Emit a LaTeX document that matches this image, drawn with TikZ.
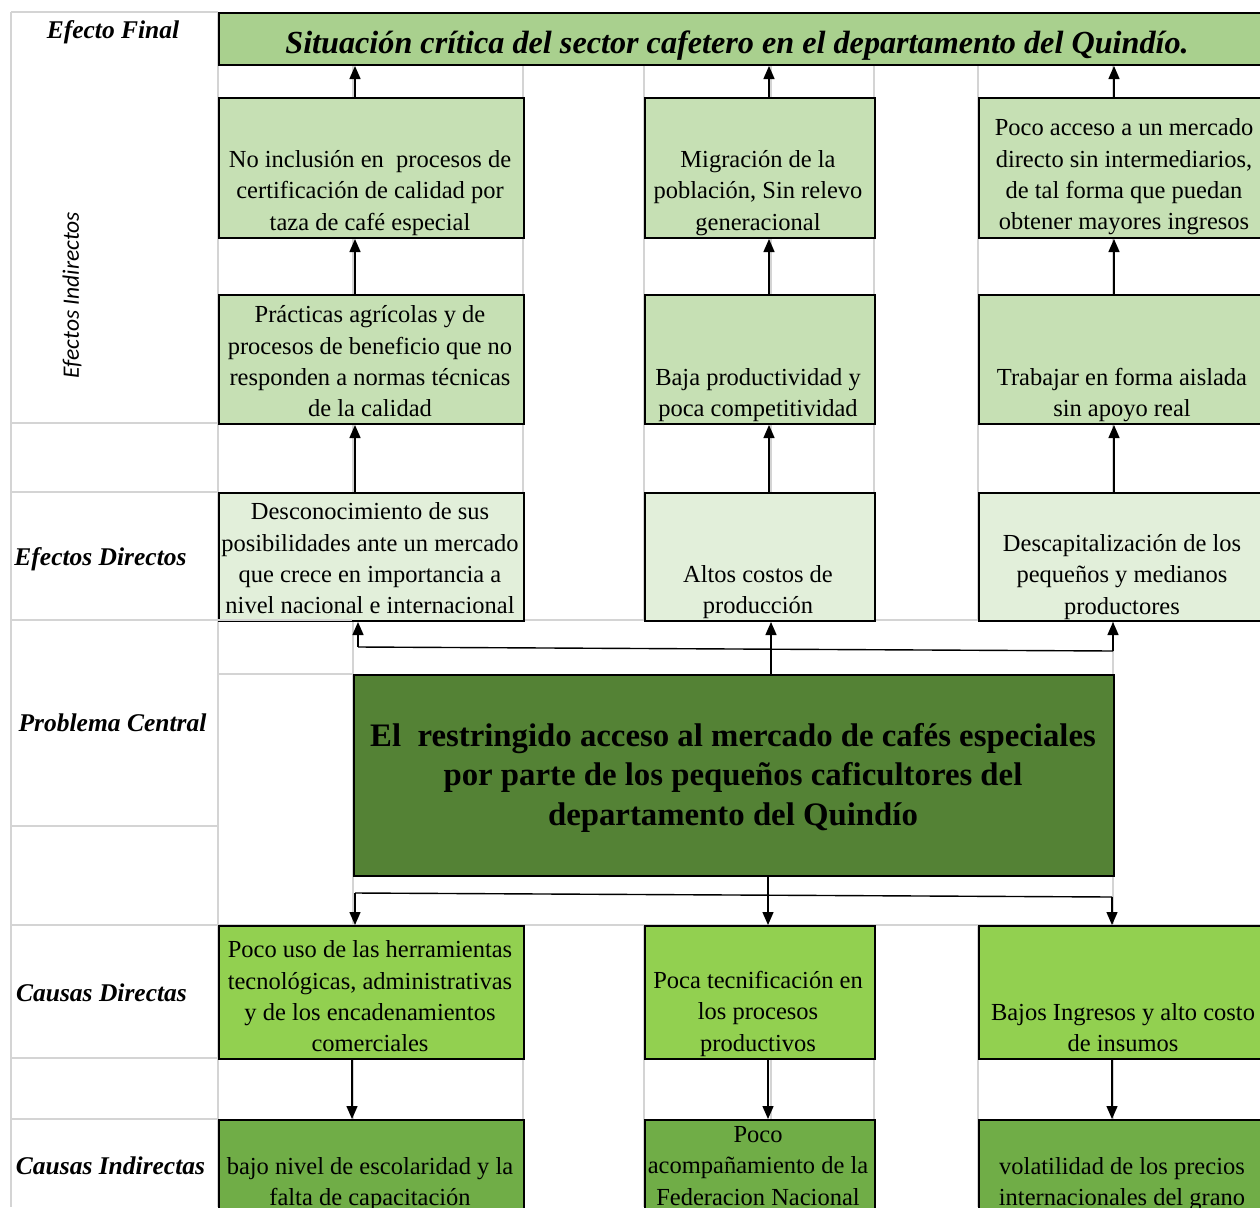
\documentclass[tikz,border=0pt]{standalone}
\usepackage{fontspec}
\setmainfont{Liberation Serif}
\newfontfamily\calibrifam{Carlito}
\usetikzlibrary{arrows.meta}

\definecolor{gridc}{HTML}{D4D4D4}
\definecolor{cfinal}{HTML}{A9D08E}
\definecolor{cindir}{HTML}{C6E0B4}
\definecolor{cdirec}{HTML}{E2EFDA}
\definecolor{ccentral}{HTML}{548235}
\definecolor{ccausa}{HTML}{92D050}
\definecolor{ccausaind}{HTML}{70AD47}

\tikzset{
  gridline/.style={draw=gridc, line width=1.6pt},
  cell/.style={draw=black, line width=2pt, inner sep=0pt, anchor=north west},
  txt/.style={align=center, inner sep=0pt,
    font=\fontsize{24.5}{31.3}\selectfont,
    execute at begin node=\strut, execute at end node=\strut},
  rowlabel/.style={anchor=base, inner sep=0pt,
    font=\fontsize{25.5}{30}\selectfont\bfseries\itshape},
  arr/.style={line width=1.4pt, -{Triangle[length=13pt,width=11pt]}},
  link/.style={line width=1.4pt},
}

\begin{document}
\begin{tikzpicture}[x=1pt,y=-1pt]
\useasboundingbox (0,0) rectangle (1260,1207);
\fill[white] (0,0) rectangle (1260,1207);

% spreadsheet gridlines
\draw[gridline] (11,12) -- (11,1207);
\draw[gridline] (218,12) -- (218,1207);
\foreach \gx in {353,523,644,771,874,978,1113}{
  \draw[gridline] (\gx,64) -- (\gx,620);
  \draw[gridline] (\gx,925) -- (\gx,1207);
}
\draw[gridline] (353,620) -- (353,925);
\draw[gridline] (1113,620) -- (1113,925);
\foreach \gy in {12,423,492,826,1058,1119}{
  \draw[gridline] (11,\gy) -- (218,\gy);
}
\draw[gridline] (11,620) -- (1260,620);
\draw[gridline] (11,925) -- (1260,925);
\draw[gridline] (218,674) -- (353,674);

% final effect
\node[cell, fill=cfinal, minimum width=1057pt, minimum height=52pt] (fin) at (218,12) {};

% indirect effects, upper row
\node[cell, fill=cindir, minimum width=305pt, minimum height=140pt] (r1a) at (218,97) {};
\node[cell, fill=cindir, minimum width=230pt, minimum height=140pt] (r1b) at (644,97) {};
\node[cell, fill=cindir, minimum width=297pt, minimum height=140pt] (r1c) at (978,97) {};

% indirect effects, lower row
\node[cell, fill=cindir, minimum width=305pt, minimum height=129pt] (r2a) at (218,294) {};
\node[cell, fill=cindir, minimum width=230pt, minimum height=129pt] (r2b) at (644,294) {};
\node[cell, fill=cindir, minimum width=297pt, minimum height=129pt] (r2c) at (978,294) {};

% direct effects
\node[cell, fill=cdirec, minimum width=305pt, minimum height=128pt] (d1a) at (218,492) {};
\node[cell, fill=cdirec, minimum width=230pt, minimum height=128pt] (d1b) at (644,492) {};
\node[cell, fill=cdirec, minimum width=297pt, minimum height=128pt] (d1c) at (978,492) {};
\draw[gridline] (218,620) -- (352,620);

% central problem
\node[cell, fill=ccentral, minimum width=760pt, minimum height=201pt] (cen) at (353,674) {};

% direct causes
\node[cell, fill=ccausa, minimum width=305pt, minimum height=133pt] (cd1) at (218,925) {};
\node[cell, fill=ccausa, minimum width=230pt, minimum height=133pt] (cd2) at (644,925) {};
\node[cell, fill=ccausa, minimum width=297pt, minimum height=133pt] (cd3) at (978,925) {};

% indirect causes
\node[cell, fill=ccausaind, minimum width=305pt, minimum height=120pt] (ci1) at (218,1119) {};
\node[cell, fill=ccausaind, minimum width=230pt, minimum height=120pt] (ci2) at (644,1119) {};
\node[cell, fill=ccausaind, minimum width=297pt, minimum height=120pt] (ci3) at (978,1119) {};

% row labels
\node[rowlabel] (l-ef) at (113,38) {Efecto Final};
\node[rotate=90, inner sep=0pt, font=\calibrifam\itshape\fontsize{23.5}{28}\selectfont] (l-ei) at (72,295) {Efectos Indirectos};
\node[rowlabel] (l-ed) at (100.5,565) {Efectos Directos};
\node[rowlabel] (l-pc) at (112.5,731) {Problema Central};
\node[rowlabel] (l-cd) at (101.5,1001) {Causas Directas};
\node[rowlabel] (l-ci) at (110.5,1174) {Causas Indirectas};

% box texts
\node[anchor=base, inner sep=0pt, font=\fontsize{32.2}{37}\selectfont\bfseries\itshape] (t-fin) at (737,54)
  {Situación crítica del sector cafetero en el departamento del Quindío.};

\node[txt] (t-r1a) at (370,195) {No inclusión en~ procesos de\\certificación de calidad por\\taza de café especial};
\node[txt] (t-r1b) at (758,195) {Migración de la\\población, Sin relevo\\generacional};
\node[txt] (t-r1c) at (1124,179) {Poco acceso a un mercado\\directo sin intermediarios,\\de tal forma que puedan\\obtener mayores ingresos};

\node[txt] (t-r2a) at (370,366) {Prácticas agrícolas y de\\procesos de beneficio que no\\responden a normas técnicas\\de la calidad};
\node[txt] (t-r2b) at (758,397) {Baja productividad y\\poca competitividad};
\node[txt] (t-r2c) at (1122,397) {Trabajar en forma aislada\\sin apoyo real};

\node[txt] (t-d1a) at (370,563) {Desconocimiento de sus\\posibilidades ante un mercado\\que crece en importancia a\\nivel nacional e internacional};
\node[txt] (t-d1b) at (758,594) {Altos costos de\\producción};
\node[txt] (t-d1c) at (1122,579) {Descapitalización de los\\pequeños y medianos\\productores};

\node[txt, font=\fontsize{32.8}{39.5}\selectfont\bfseries] (t-cen) at (733,780)
  {El~ restringido acceso al mercado de cafés especiales\\por parte de los pequeños caficultores del\\departamento del Quindío};

\node[txt] (t-cd1) at (370,1001) {Poco uso de las herramientas\\tecnológicas, administrativas\\y de los encadenamientos\\comerciales};
\node[txt] (t-cd2) at (758,1016) {Poca tecnificación en\\los procesos\\productivos};
\node[txt] (t-cd3) at (1123,1032) {Bajos Ingresos y alto costo\\de insumos};

\node[txt] (t-ci1) at (370,1186) {bajo nivel de escolaridad y la\\falta de capacitación};
\node[txt] (t-ci2) at (758,1170.5) {Poco\\acompañamiento de la\\Federacion Nacional};
\node[txt] (t-ci3) at (1122,1186) {volatilidad de los precios\\internacionales del grano};

% column positions of the connectors
\coordinate (xa) at (355,0);
\coordinate (xb) at (769,0);
\coordinate (xc) at (1114,0);
\coordinate (xm) at (771,0);
\coordinate (xn) at (768,0);
\coordinate (xp) at (352,0);
\coordinate (xq) at (1112,0);

% effects chain
\draw[arr] (r1a.north -| xa) -- (fin.south -| xa);
\draw[arr] (r1b.north -| xb) -- (fin.south -| xb);
\draw[arr] (r1c.north -| xc) -- (fin.south -| xc);
\draw[arr] (r2a.north -| xa) -- (r1a.south -| xa);
\draw[arr] (r2b.north -| xb) -- (r1b.south -| xb);
\draw[arr] (r2c.north -| xc) -- (r1c.south -| xc);
\draw[arr] (d1a.north -| xa) -- (r2a.south -| xa);
\draw[arr] (d1b.north -| xb) -- (r2b.south -| xb);
\draw[arr] (d1c.north -| xc) -- (r2c.south -| xc);

% central problem to direct effects
\coordinate (ua) at (358,647);
\coordinate (ub) at (1113,651);
\draw[link] (ua) -- (ub);
\draw[arr] (ua) -- (d1a.south -| ua);
\draw[arr] (ub) -- (d1c.south -| ub);
\draw[arr] (cen.north -| xm) -- (d1b.south -| xm);

% central problem to direct causes
\coordinate (la) at (355,893);
\coordinate (lb) at (1112,897);
\draw[link] (la) -- (lb);
\draw[arr] (la) -- (cd1.north -| la);
\draw[arr] (lb) -- (cd3.north -| lb);
\draw[arr] (cen.south -| xn) -- (cd2.north -| xn);

% direct causes to indirect causes
\draw[arr] (cd1.south -| xp) -- (ci1.north -| xp);
\draw[arr] (cd2.south -| xn) -- (ci2.north -| xn);
\draw[arr] (cd3.south -| xq) -- (ci3.north -| xq);
\end{tikzpicture}
\end{document}
